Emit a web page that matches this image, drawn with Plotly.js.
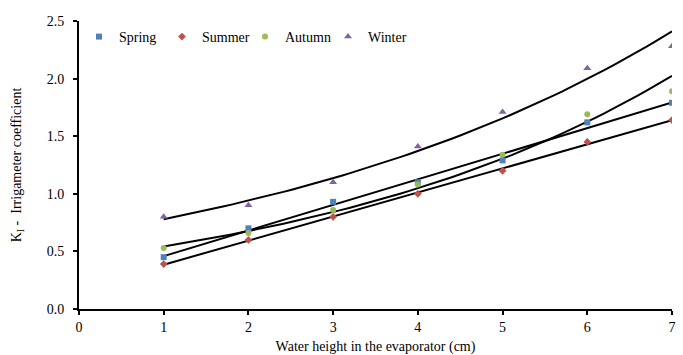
<!DOCTYPE html>
<html>
<head>
<meta charset="utf-8">
<script src="https://cdn.plot.ly/plotly-3.0.1.min.js"></script>
<style>html,body{margin:0;padding:0;background:#fff;}#chart{width:683px;height:355px;}</style>
</head>
<body>
<div id="chart"></div>
<script>
const heights = [1, 2, 3, 4, 5, 6, 7];
const spring = [0.45, 0.70, 0.93, 1.10, 1.29, 1.62, 1.79];
const summer = [0.39, 0.60, 0.80, 1.00, 1.20, 1.45, 1.64];
const autumn = [0.53, 0.66, 0.86, 1.08, 1.34, 1.69, 1.89];
const winter = [0.80, 0.90, 1.10, 1.41, 1.71, 2.09, 2.28];
const xTicks = [0, 1, 2, 3, 4, 5, 6, 7];
const yTicks = [0.0, 0.5, 1.0, 1.5, 2.0, 2.5];

function linFit(x, y) {
  const n = x.length;
  const mx = x.reduce((a, b) => a + b, 0) / n;
  const my = y.reduce((a, b) => a + b, 0) / n;
  let sxy = 0, sxx = 0;
  for (let i = 0; i < n; i++) { sxy += (x[i] - mx) * (y[i] - my); sxx += (x[i] - mx) ** 2; }
  const b = sxy / sxx;
  return { a: my - b * mx, b: b };
}
function trend(x, y, kind) {
  const xs = [], ys = [];
  const x0 = Math.min(...x), x1 = Math.max(...x);
  if (kind === 'lin') {
    const f = linFit(x, y);
    xs.push(x0, x1); ys.push(f.a + f.b * x0, f.a + f.b * x1);
  } else {
    const f = linFit(x, y.map(Math.log));
    for (let i = 0; i <= 60; i++) { const t = x0 + (x1 - x0) * i / 60; xs.push(t); ys.push(Math.exp(f.a + f.b * t)); }
  }
  return { x: xs, y: ys };
}

const font = 'Liberation Serif, Times New Roman, serif';
const series = [
  { name: 'Spring', y: spring, color: '#4F81BD', symbol: 'square', size: 6, kind: 'lin' },
  { name: 'Summer', y: summer, color: '#C0504D', symbol: 'diamond', size: 6, kind: 'lin' },
  { name: 'Autumn', y: autumn, color: '#9BBB59', symbol: 'circle', size: 6, kind: 'exp' },
  { name: 'Winter', y: winter, color: '#8064A2', symbol: 'triangle-up', size: 7, kind: 'exp' }
];
const traces = [];
series.forEach(s => {
  const t = trend(heights, s.y, s.kind);
  traces.push({ x: t.x, y: t.y, mode: 'lines', line: { color: '#000', width: 2 }, showlegend: false, hoverinfo: 'skip' });
});
series.forEach(s => {
  traces.push({ x: heights, y: s.y, name: s.name, mode: 'markers', marker: { color: s.color, symbol: s.symbol, size: s.size } });
});

const layout = {
  width: 683, height: 355,
  margin: { l: 79, r: 11, t: 21, b: 46 },
  paper_bgcolor: '#fff', plot_bgcolor: '#fff',
  font: { family: font, size: 14, color: '#000' },
  showlegend: true,
  legend: { orientation: 'h', x: 0, y: 1.0, xanchor: 'left', yanchor: 'top', font: { family: font, size: 14 }, itemwidth: 30, entrywidth: 38, entrywidthmode: 'pixels', bgcolor: 'rgba(0,0,0,0)', tracegroupgap: 0 },
  xaxis: {
    range: [0, 7], tickvals: xTicks, ticktext: xTicks.map(String),
    showgrid: false, zeroline: false, showline: true, linecolor: '#000', linewidth: 2,
    ticks: 'outside', ticklen: 4, tickwidth: 2, tickcolor: '#000',
    tickfont: { family: font, size: 14 },
    title: { text: 'Water height in the evaporator (cm)', font: { family: font, size: 14 }, standoff: 8 }
  },
  yaxis: {
    range: [0, 2.5], tickvals: yTicks, ticktext: yTicks.map(v => v.toFixed(1)),
    showgrid: false, zeroline: false, showline: true, linecolor: '#000', linewidth: 2,
    ticks: 'outside', ticklen: 4, tickwidth: 2, tickcolor: '#000',
    ticklabelstandoff: 6,
    tickfont: { family: font, size: 14 },
    title: { text: 'K<sub>I</sub> -  Irrigameter coefficient', font: { family: font, size: 14 }, standoff: 22 }
  }
};
Plotly.newPlot('chart', traces, layout, { displayModeBar: false, staticPlot: true });
</script>
</body>
</html>
